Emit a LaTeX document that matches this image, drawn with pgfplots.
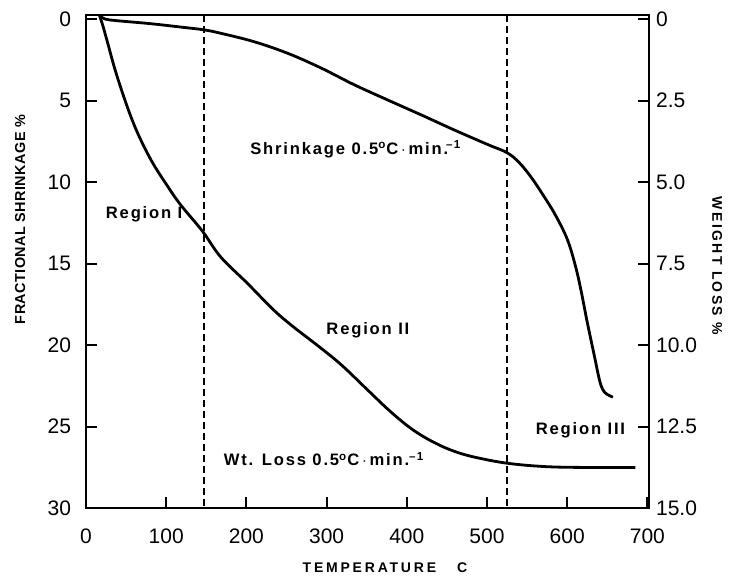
\documentclass[border=0pt]{standalone}
\usepackage{fontspec}
\setmainfont{Liberation Sans}
\newfontfamily\lblfont[LetterSpace=11]{Liberation Sans}
\newfontfamily\yfont[LetterSpace=3]{Liberation Sans}
\newfontfamily\rfont[LetterSpace=17]{Liberation Sans}
\newfontfamily\xfont[LetterSpace=20]{Liberation Sans}
\usepackage{pgfplots}
\pgfplotsset{compat=1.18}
\begin{document}
\begin{tikzpicture}
\path[use as bounding box] (-43pt,-33.5pt) rectangle (323pt,254pt);
\begin{axis}[
  scale only axis, width=281.5pt, height=246.5pt,
  at={(0,0)}, anchor=south west,
  xmin=0, xmax=702, ymin=-0.25, ymax=30, y dir=reverse,
  xtick={0,100,...,700}, ytick={0,5,...,30},
  xtick pos=bottom, ytick pos=left, tick align=inside,
  major tick length=5.5pt,
  axis line style={line width=1pt}, every tick/.style={line width=1pt, black},
  /pgf/number format/assume math mode=true,
  tick label style={font=\fontsize{10.5}{12}\selectfont},
  xticklabel style={yshift=-7pt},
  yticklabel style={xshift=-4pt},
  clip=false,
]
\addplot[black, dash pattern=on 3.5pt off 2pt, line width=0.9pt] coordinates {(147,-0.25) (147,30)};
\addplot[black, dash pattern=on 3.5pt off 2pt, line width=0.9pt] coordinates {(525,-0.25) (525,30)};
% Shrinkage curve (upper)
\addplot[black, line width=1.4pt, smooth, tension=0.6] coordinates {
 (17,-0.2) (24,0.0) (39,0.1) (80,0.28) (120,0.5) (147,0.66) (168,0.87) (209,1.38)
 (251,2.09) (293,3.0) (334,4.02) (376,4.96) (418,5.88) (459,6.8) (501,7.7) (525,8.2)
 (540,8.8) (555,9.7) (570,10.8) (585,12.0)
 (600,13.5) (610,15.1) (617,16.6) (625,18.6) (634,20.7) (640,22.1) (644,22.7)
 (649,23.0) (657,23.2)};
% Weight loss curve (lower)
\addplot[black, line width=1.4pt, smooth, tension=0.6] coordinates {
 (17,-0.2) (21,0.4) (26,1.28) (39,3.55) (59,6.37) (80,8.55) (101,10.2) (118,11.4)
 (145,13.0) (168,14.6) (201,16.2) (234,17.85) (259,18.9) (288,20.0) (318,21.2)
 (351,22.75) (380,24.1) (409,25.25) (439,26.1) (467,26.65) (496,27.0) (525,27.25)
 (560,27.42) (600,27.5) (685,27.52)};
\node[anchor=west, font=\lblfont\bfseries\fontsize{8.3}{10}\selectfont] at (axis cs:196,8.0)
 {Shrinkage 0.5\textsuperscript{o}C\,$\cdot$\,min.\textsuperscript{\kern-1pt–1}};
\node[anchor=west, font=\lblfont\bfseries\fontsize{8.3}{10}\selectfont] at (axis cs:16,12.0) {Region I};
\node[anchor=west, font=\lblfont\bfseries\fontsize{8.3}{10}\selectfont] at (axis cs:291,19.1) {Region II};
\node[anchor=west, font=\lblfont\bfseries\fontsize{8.3}{10}\selectfont] at (axis cs:163,27.0)
 {Wt. Loss 0.5\textsuperscript{o}C\,$\cdot$\,min.\textsuperscript{–1}};
\node[anchor=west, font=\lblfont\bfseries\fontsize{8.3}{10}\selectfont] at (axis cs:552,25.2) {Region III};
\node[rotate=90, font=\yfont\bfseries\fontsize{7.2}{8}\selectfont] at (rel axis cs:-0.117,0.585) {FRACTIONAL SHRINKAGE \%};
\node[rotate=-90, font=\rfont\bfseries\fontsize{7}{8}\selectfont] at (rel axis cs:1.121,0.491) {WEIGHT LOSS \%};
\node[font=\xfont\bfseries\fontsize{7}{8}\selectfont] at (rel axis cs:0.531,-0.1217) {TEMPERATURE\hspace{1.5em}C};
\end{axis}
\begin{axis}[
  scale only axis, width=281.5pt, height=246.5pt,
  at={(0,0)}, anchor=south west,
  xmin=0, xmax=702, ymin=-0.125, ymax=15, y dir=reverse,
  hide x axis, ytick pos=right, tick align=inside,
  major tick length=5.5pt,
  axis line style={line width=1pt}, every tick/.style={line width=1pt, black},
  ytick={0,2.5,5,7.5,10,12.5,15},
  yticklabels={0,2.5,5.0,7.5,10.0,12.5,15.0},
  tick label style={font=\fontsize{10.5}{12}\selectfont},
  yticklabel style={xshift=0pt},
]
\addplot[draw=none] coordinates {(0,0) (700,15)};
\end{axis}
\end{tikzpicture}
\end{document}
